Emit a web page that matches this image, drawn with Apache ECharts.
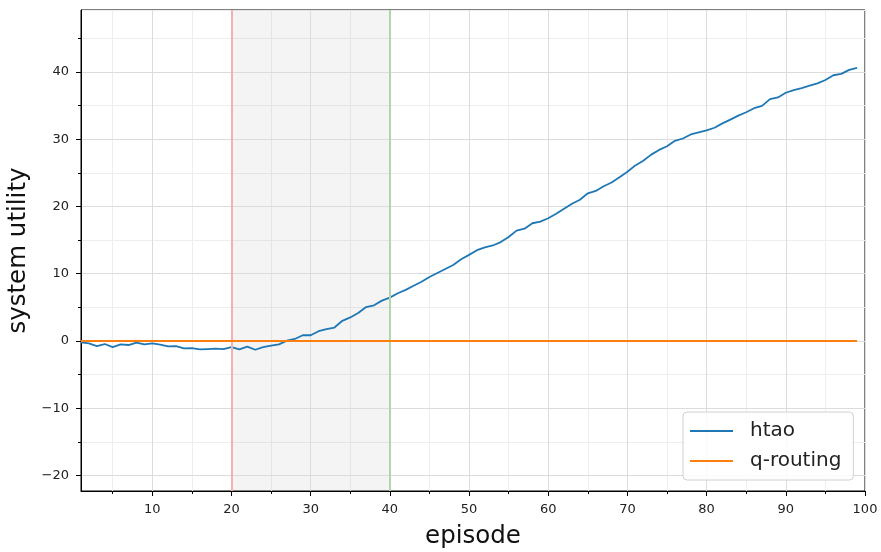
<!DOCTYPE html>
<html>
<head>
<meta charset="utf-8">
<script src="https://cdn.jsdelivr.net/npm/echarts@6/dist/echarts.min.js"></script>
<style>
  html, body { margin: 0; padding: 0; background: #fff; }
  #chart { width: 881px; height: 552px; }
</style>
</head>
<body>
<div id="chart"></div>
<script>
// System utility per training episode for two routing agents.
const htaoUtility = [
  -0.2, -0.35, -0.75, -0.45, -0.9, -0.5, -0.6, -0.25, -0.5, -0.35,
  -0.55, -0.8, -0.75, -1.1, -1.05, -1.25, -1.2, -1.15, -1.2, -0.9,
  -1.25, -0.85, -1.3, -0.9, -0.7, -0.5, 0.05, 0.3, 0.85, 0.85,
  1.45, 1.75, 2.0, 3.0, 3.5, 4.15, 5.05, 5.3, 6.0, 6.45,
  7.1, 7.6, 8.2, 8.8, 9.5, 10.1, 10.7, 11.3, 12.15, 12.8,
  13.5, 13.9, 14.2, 14.7, 15.45, 16.4, 16.7, 17.5, 17.75, 18.25,
  18.9, 19.65, 20.4, 21.0, 21.95, 22.3, 23.0, 23.55, 24.35, 25.15,
  26.1, 26.8, 27.7, 28.4, 28.95, 29.75, 30.1, 30.7, 31.0, 31.3,
  31.7, 32.35, 32.9, 33.5, 34.0, 34.6, 34.95, 35.95, 36.2, 36.9,
  37.3, 37.6, 37.95, 38.3, 38.8, 39.5, 39.7, 40.3, 40.6
];
const qRoutingUtility = [
  0, 0, 0, 0, 0, 0, 0, 0, 0, 0,
  0, 0, 0, 0, 0, 0, 0, 0, 0, 0,
  0, 0, 0, 0, 0, 0, 0, 0, 0, 0,
  0, 0, 0, 0, 0, 0, 0, 0, 0, 0,
  0, 0, 0, 0, 0, 0, 0, 0, 0, 0,
  0, 0, 0, 0, 0, 0, 0, 0, 0, 0,
  0, 0, 0, 0, 0, 0, 0, 0, 0, 0,
  0, 0, 0, 0, 0, 0, 0, 0, 0, 0,
  0, 0, 0, 0, 0, 0, 0, 0, 0, 0,
  0, 0, 0, 0, 0, 0, 0, 0, 0
];
const firstEpisode = 1;

// Phase boundaries (episodes)
const phaseStart = 20;
const phaseEnd = 40;

// Axis ranges and ticks
const xRange = [1, 100];
const yRange = [-22.3, 49.2];
const xMajorTicks = [10, 20, 30, 40, 50, 60, 70, 80, 90, 100];
const yMajorTicks = [-20, -10, 0, 10, 20, 30, 40];

const FONT = 'DejaVu Sans';
const toPairs = arr => arr.map((v, i) => [firstEpisode + i, v]);
const fmtTick = v => String(Math.round(v)).replace('-', '\u2212');

// Light grid every 5 units (drawn underneath)
const minorAxisCommon = {
  type: 'value',
  axisLine: { show: false, onZero: false },
  axisLabel: { show: false },
  axisTick: { show: false },
  splitLine: { show: true, lineStyle: { color: '#eeeeee', width: 1 } },
  z: 0
};
// Main axes with labels, ticks and darker grid every 10 units
const majorAxisCommon = {
  type: 'value',
  axisLine: { show: true, onZero: false, lineStyle: { color: '#000', width: 1 } },
  axisTick: { show: true, length: 5, lineStyle: { color: '#000', width: 1 } },
  minorTick: { show: true, splitNumber: 2, length: 3, lineStyle: { color: '#000', width: 1 } },
  splitLine: { show: true, lineStyle: { color: '#dcdcdc', width: 1 } },
  nameTextStyle: { fontFamily: FONT, fontSize: 24.5, color: '#111' },
  z: 2
};

const chart = echarts.init(document.getElementById('chart'), null, { renderer: 'canvas' });
chart.setOption({
  animation: false,
  backgroundColor: '#fff',
  grid: {
    left: 81, right: 16, top: 10, bottom: 61,
    outerBoundsMode: 'none', containLabel: false,
    show: true, borderColor: '#000', borderWidth: 1, backgroundColor: '#fff'
  },
  xAxis: [
    Object.assign({}, minorAxisCommon, {
      position: 'bottom', min: xRange[0], max: xRange[1], splitNumber: 20
    }),
    Object.assign({}, majorAxisCommon, {
      position: 'bottom', min: xRange[0], max: xRange[1], splitNumber: 7,
      name: 'episode', nameLocation: 'middle', nameGap: 33,
      axisTick: Object.assign({}, majorAxisCommon.axisTick, { customValues: xMajorTicks }),
      axisLabel: {
        customValues: xMajorTicks, formatter: fmtTick, margin: 12,
        fontFamily: FONT, fontSize: 13, color: '#222'
      }
    })
  ],
  yAxis: [
    Object.assign({}, minorAxisCommon, {
      position: 'left', min: yRange[0], max: yRange[1], splitNumber: 14
    }),
    Object.assign({}, majorAxisCommon, {
      position: 'left', min: yRange[0], max: yRange[1], splitNumber: 5,
      name: 'system utility', nameLocation: 'middle', nameGap: 44, nameRotate: 90,
      axisTick: Object.assign({}, majorAxisCommon.axisTick, { customValues: yMajorTicks }),
      axisLabel: {
        customValues: yMajorTicks, formatter: fmtTick, margin: 12,
        fontFamily: FONT, fontSize: 13, color: '#222'
      }
    })
  ],
  legend: {
    orient: 'vertical',
    left: 683, top: 412,
    padding: [8, 12, 8, 7],
    icon: 'rect',
    itemWidth: 43, itemHeight: 2, itemGap: 8,
    backgroundColor: 'rgba(255,255,255,0.85)',
    borderColor: '#d0d0d0', borderWidth: 1, borderRadius: 4,
    textStyle: { fontFamily: FONT, fontSize: 20, color: '#222', lineHeight: 22, padding: [0, 0, 0, 12] },
    data: ['htao', 'q-routing']
  },
  series: [
    {
      name: 'htao',
      type: 'line',
      xAxisIndex: 1, yAxisIndex: 1,
      data: toPairs(htaoUtility),
      symbol: 'none', showSymbol: false,
      lineStyle: { color: '#1f77b4', width: 1.8 },
      itemStyle: { color: '#1f77b4' },
      z: 4,
      markArea: {
        silent: true,
        itemStyle: { color: 'rgba(128,128,128,0.09)' },
        data: [[{ xAxis: phaseStart }, { xAxis: phaseEnd }]]
      },
      markLine: {
        silent: true, symbol: 'none', label: { show: false },
        data: [
          { xAxis: phaseStart, lineStyle: { color: '#f4b0b0', width: 2, type: 'solid' } },
          { xAxis: phaseEnd, lineStyle: { color: '#b2d5ac', width: 2, type: 'solid' } }
        ]
      }
    },
    {
      name: 'q-routing',
      type: 'line',
      xAxisIndex: 1, yAxisIndex: 1,
      data: toPairs(qRoutingUtility),
      symbol: 'none', showSymbol: false,
      lineStyle: { color: '#ff7f0e', width: 1.8 },
      itemStyle: { color: '#ff7f0e' },
      z: 5
    }
  ]
});
</script>
</body>
</html>
